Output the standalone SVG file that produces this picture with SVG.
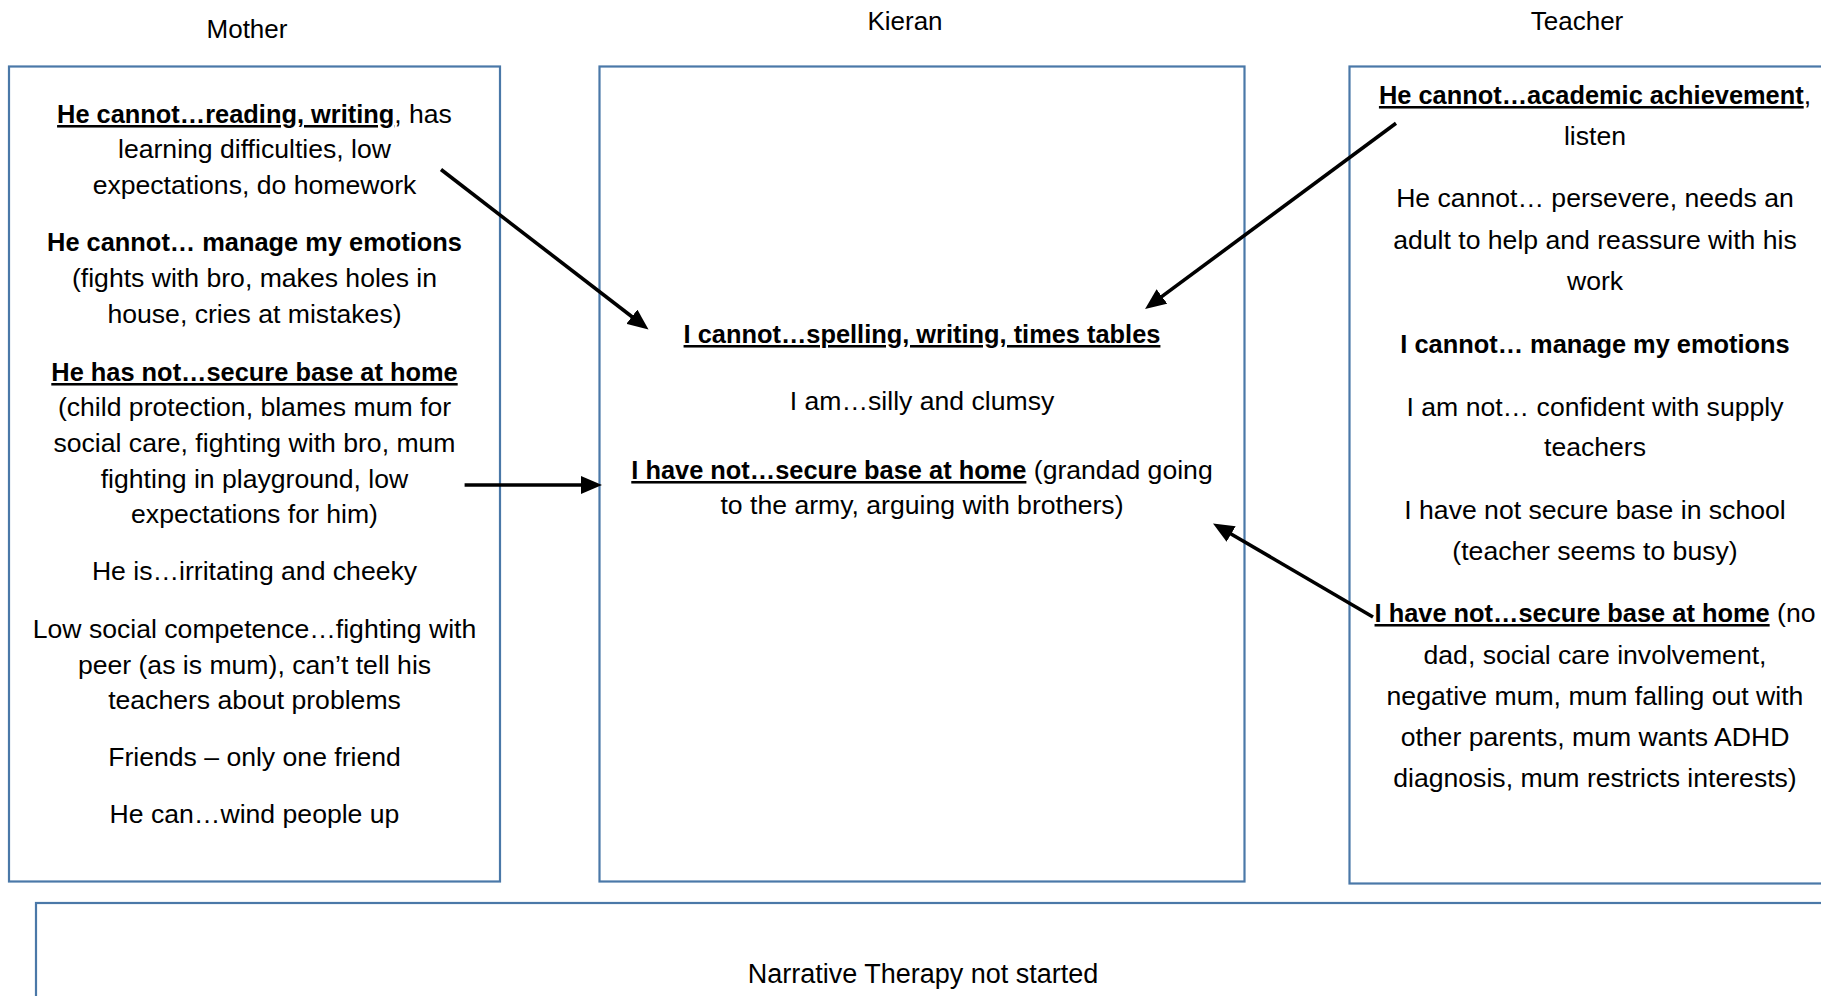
<svg xmlns="http://www.w3.org/2000/svg" width="1821" height="996" viewBox="0 0 1821 996">
<style>
.box{fill:#ffffff;stroke:#4a78a8;stroke-width:2.2}
text{font-family:"Liberation Sans",Arial,sans-serif;fill:#000}
.t{font-size:26.6px;text-anchor:middle}
.title{font-size:26px;text-anchor:middle}
.b{font-weight:bold;font-size:25.4px}
.u{text-decoration:underline;text-decoration-skip-ink:none}
.arr{stroke:#000;stroke-width:3.6;fill:none;marker-end:url(#ah)}
</style>
<defs>
<marker id="ah" markerUnits="userSpaceOnUse" markerWidth="22" markerHeight="18" refX="10" refY="9" orient="auto">
<path d="M0,0 L21,9 L0,18 z" fill="#000"/>
</marker>
</defs>
<rect width="1821" height="996" fill="#ffffff"/>

<g id="mother">
<text class="title" x="247" y="38">Mother</text>
<rect class="box" x="9" y="66.5" width="491" height="815"/>
<text class="t" x="254.5" y="123"><tspan class="b u">He cannot…reading, writing</tspan>, has</text>
<text class="t" x="254.5" y="158">learning difficulties, low</text>
<text class="t" x="254.5" y="194">expectations, do homework</text>
<text class="t b" x="254.5" y="251">He cannot… manage my emotions</text>
<text class="t" x="254.5" y="287">(fights with bro, makes holes in</text>
<text class="t" x="254.5" y="323">house, cries at mistakes)</text>
<text class="t b u" x="254.5" y="381">He has not…secure base at home</text>
<text class="t" x="254.5" y="416">(child protection, blames mum for</text>
<text class="t" x="254.5" y="452">social care, fighting with bro, mum</text>
<text class="t" x="254.5" y="488">fighting in playground, low</text>
<text class="t" x="254.5" y="523">expectations for him)</text>
<text class="t" x="254.5" y="580">He is…irritating and cheeky</text>
<text class="t" x="254.5" y="638">Low social competence…fighting with</text>
<text class="t" x="254.5" y="674">peer (as is mum), can’t tell his</text>
<text class="t" x="254.5" y="709">teachers about problems</text>
<text class="t" x="254.5" y="766">Friends – only one friend</text>
<text class="t" x="254.5" y="823">He can…wind people up</text>
</g>

<g id="kieran">
<text class="title" x="905" y="30">Kieran</text>
<rect class="box" x="599.5" y="66.5" width="645" height="815"/>
<text class="t b u" x="922" y="343">I cannot…spelling, writing, times tables</text>
<text class="t" x="922" y="410">I am…silly and clumsy</text>
<text class="t" x="922" y="479"><tspan class="b u">I have not…secure base at home</tspan> (grandad going</text>
<text class="t" x="922" y="514">to the army, arguing with brothers)</text>
</g>

<g id="teacher">
<text class="title" x="1577" y="30">Teacher</text>
<rect class="box" x="1349.5" y="66.5" width="490" height="817"/>
<text class="t" x="1595" y="104"><tspan class="b u">He cannot…academic achievement</tspan>,</text>
<text class="t" x="1595" y="145">listen</text>
<text class="t" x="1595" y="207">He cannot… persevere, needs an</text>
<text class="t" x="1595" y="249">adult to help and reassure with his</text>
<text class="t" x="1595" y="290">work</text>
<text class="t b" x="1595" y="353">I cannot… manage my emotions</text>
<text class="t" x="1595" y="416">I am not… confident with supply</text>
<text class="t" x="1595" y="456">teachers</text>
<text class="t" x="1595" y="519">I have not secure base in school</text>
<text class="t" x="1595" y="560">(teacher seems to busy)</text>
<text class="t" x="1595" y="622"><tspan class="b u">I have not…secure base at home</tspan> (no</text>
<text class="t" x="1595" y="664">dad, social care involvement,</text>
<text class="t" x="1595" y="705">negative mum, mum falling out with</text>
<text class="t" x="1595" y="746">other parents, mum wants ADHD</text>
<text class="t" x="1595" y="787">diagnosis, mum restricts interests)</text>
</g>

<g id="narrative">
<rect class="box" x="36" y="903" width="1800" height="120"/>
<text class="t" x="923" y="983" style="font-size:27px">Narrative Therapy not started</text>
</g>

<g id="connectors">
<line class="arr" x1="441" y1="169.5" x2="639.8" y2="322.8"/>
<line class="arr" x1="464.6" y1="485" x2="591" y2="485"/>
<line class="arr" x1="1396" y1="123.3" x2="1153.9" y2="302.4"/>
<line class="arr" x1="1373" y1="617" x2="1222.5" y2="529"/>
</g>
</svg>
